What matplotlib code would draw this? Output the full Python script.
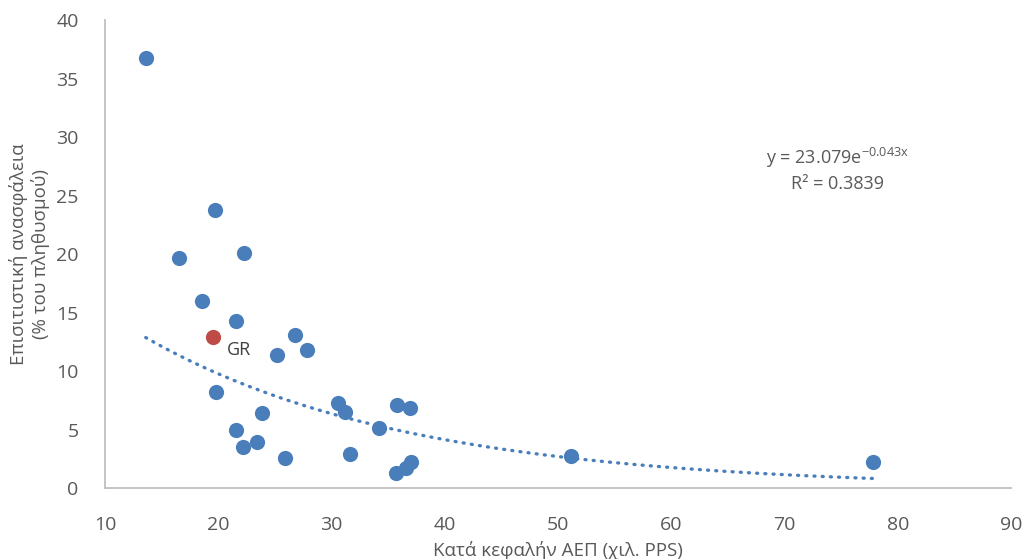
import numpy as np
import matplotlib
matplotlib.use("Agg")
import matplotlib.pyplot as plt

plt.rcParams['font.family'] = ['Open Sans', 'DejaVu Sans']
plt.rcParams['mathtext.default'] = 'regular'

# data (GDP per capita, thousand PPS ; food insecurity % of population)
gdp = [13.6, 16.5, 19.7, 22.3, 18.6, 21.6, 26.8, 25.2, 27.8, 19.8, 23.9,
       21.6, 22.2, 23.4, 25.9, 30.6, 31.2, 31.6, 34.2, 35.8, 36.9, 35.7,
       36.6, 37.0, 51.1, 77.8]
insec = [36.8, 19.7, 23.8, 20.1, 16.0, 14.3, 13.1, 11.4, 11.8, 8.2, 6.4,
         5.0, 3.5, 3.9, 2.6, 7.3, 6.5, 2.9, 5.1, 7.1, 6.8, 1.3,
         1.7, 2.2, 2.7, 2.2]
gr_gdp = [19.5]
gr_insec = [12.9]
trend_a = 23.079
trend_b = -0.043
r2 = 0.3839

blue = '#4a7ebb'
red = '#be4b48'
grey = '#595959'

fig = plt.figure(figsize=(10.24, 5.59), dpi=100)
ax = fig.add_axes([0.1025, 0.127, 0.885, 0.837])

ax.scatter(gdp, insec, s=120, color=blue, zorder=3, linewidths=0)
ax.scatter(gr_gdp, gr_insec, s=120, color=red, zorder=3, linewidths=0)
ax.text(gr_gdp[0] + 1.3, gr_insec[0] - 1.1, 'GR', fontsize=13, color='#404040',
        va='center', ha='left')

xt = np.linspace(min(gdp + gr_gdp), max(gdp + gr_gdp), 200)
ax.plot(xt, trend_a * np.exp(trend_b * xt), color=blue, lw=2.4,
        linestyle=(0, (0.3, 2.16)), dash_capstyle='round', zorder=2)

ax.text(0.818, 0.697, 'y = 23.079e$^{-0.043x}$\nR² = %.4f' % r2, transform=fig.transFigure,
        ha='center', va='center', fontsize=13, color=grey, linespacing=1.35)

ax.set_xlim(10, 90)
ax.set_ylim(0, 40)
ax.set_xticks(np.arange(10, 91, 10))
ax.set_yticks(np.arange(0, 41, 5))
ax.tick_params(length=0, labelsize=14, labelcolor=grey)
ax.tick_params(axis='x', pad=20)
ax.tick_params(axis='y', pad=19)
for s in ['top', 'right']:
    ax.spines[s].set_visible(False)
for s in ['left', 'bottom']:
    ax.spines[s].set_color('#bfbfbf')
    ax.spines[s].set_linewidth(1.3)

ax.set_xlabel('Κατά κεφαλήν ΑΕΠ (χιλ. PPS)', fontsize=13.5, color=grey, va='top')
ax.xaxis.set_label_coords(0.5, -0.113)
ax.set_ylabel('Επισιτιστική ανασφάλεια\n(% του πληθυσμού)', fontsize=13.5, color=grey,
              linespacing=1.2, va='center')
ax.yaxis.set_label_coords(-0.0828, 0.5)

fig.savefig('out.png', dpi=100)
